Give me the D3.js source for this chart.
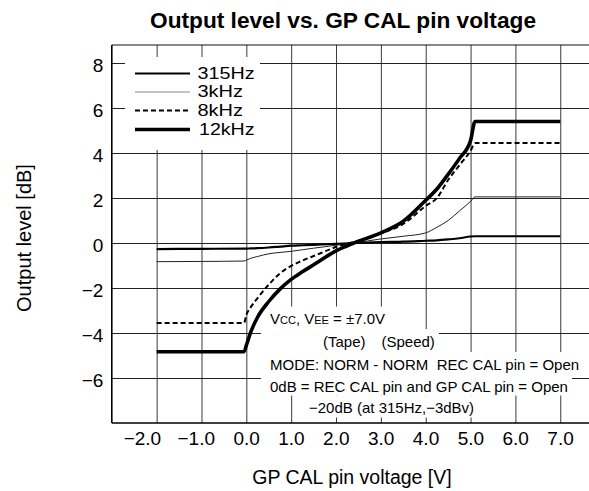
<!DOCTYPE html>
<html>
<head>
<meta charset="utf-8">
<script src="https://cdn.jsdelivr.net/npm/d3@7"></script>
<style>
  html, body { margin: 0; padding: 0; background: #fff; }
  svg { display: block; font-family: "Liberation Sans", Arial, Helvetica, sans-serif; }
  text { white-space: pre; }
</style>
</head>
<body>
<svg id="chart" width="589" height="491"></svg>
<script>
// ---- data ----
const voltage = [-2.0, -1.0, -0.05, 0.0, 0.1, 0.25, 0.5, 0.75, 1.0, 1.25, 1.5, 2.0, 2.4, 3.0, 3.5, 4.0, 4.25, 4.5, 4.75, 5.0, 5.1, 6.0, 7.0];
const out315Hz = [-0.27, -0.26, -0.25, -0.25, -0.24, -0.23, -0.2, -0.16, -0.12, -0.1, -0.08, -0.04, 0.0, 0.04, 0.06, 0.1, 0.12, 0.16, 0.21, 0.29, 0.3, 0.3, 0.3];
const out3kHz  = [-0.83, -0.82, -0.8, -0.76, -0.68, -0.6, -0.48, -0.42, -0.37, -0.3, -0.23, -0.1, 0.0, 0.18, 0.3, 0.45, 0.7, 1.0, 1.42, 1.85, 2.05, 2.05, 2.05];
const out8kHz  = [-3.55, -3.55, -3.55, -3.2, -2.85, -2.45, -1.85, -1.35, -1.02, -0.78, -0.58, -0.18, 0.05, 0.42, 0.85, 1.65, 2.0, 2.8, 3.45, 4.1, 4.44, 4.44, 4.44];
const out12kHz = [-4.83, -4.83, -4.83, -4.55, -3.95, -3.3, -2.6, -2.05, -1.62, -1.28, -0.97, -0.35, 0.0, 0.45, 0.97, 1.9, 2.4, 3.05, 3.75, 4.55, 5.4, 5.4, 5.4];
const seriesNames = ["315Hz", "3kHz", "8kHz", "12kHz"];
const xTicks = [-2, -1, 0, 1, 2, 3, 4, 5, 6, 7];
const xTickLabels = ["\u22122.0", "\u22121.0", "0.0", "1.0", "2.0", "3.0", "4.0", "5.0", "6.0", "7.0"];
const yTicks = [8, 6, 4, 2, 0, -2, -4, -6];
const yTickLabels = ["8", "6", "4", "2", "0", "\u22122", "\u22124", "\u22126"];
const titleText = "Output level vs. GP CAL pin voltage";
const xTitle = "GP CAL pin voltage [V]";
const yTitle = "Output level [dB]";

(function () {
// ---- layout ----
const svg = d3.select("#chart");
const pLeft = 111.8, pRight = 605.1, pTop = 45, pBottom = 423;
const x = d3.scaleLinear().domain([-3, 8]).range([pLeft, pRight]);
const y = d3.scaleLinear().domain([-8, 8.8]).range([pBottom, pTop]);

// title
svg.append("text").attr("x", 343).attr("y", 28).attr("text-anchor", "middle")
  .attr("font-size", 22).attr("font-weight", "bold").attr("fill", "#000")
  .attr("textLength", 386).attr("lengthAdjust", "spacingAndGlyphs").text(titleText);

// grid via axes
const gx = svg.append("g").attr("transform", `translate(0,${pBottom})`)
  .call(d3.axisBottom(x).tickValues(xTicks).tickSize(-(pBottom - pTop)).tickPadding(9)
    .tickFormat((d, i) => xTickLabels[i]));
gx.select(".domain").remove();
gx.selectAll(".tick line").attr("stroke", "#3a3a3a").attr("stroke-width", 1);
gx.selectAll(".tick text").attr("font-size", 19).attr("fill", "#000")
  .attr("font-family", "Liberation Sans, Arial, sans-serif")
  .attr("text-anchor", "end").attr("dx", d => d === -2 ? 4 : 13).attr("dy", "0.71em");

const gy = svg.append("g").attr("transform", `translate(${pLeft},0)`)
  .call(d3.axisLeft(y).tickValues(yTicks).tickSize(-(600 - pLeft)).tickPadding(8.5)
    .tickFormat((d, i) => yTickLabels[i]));
gy.select(".domain").remove();
gy.selectAll(".tick line").attr("stroke", "#222").attr("stroke-width", 1);
gy.selectAll(".tick text").attr("font-size", 19).attr("fill", "#000")
  .attr("font-family", "Liberation Sans, Arial, sans-serif").attr("dy", "0.45em");

// frame: top, left, bottom
svg.append("line").attr("x1", pLeft).attr("x2", 600).attr("y1", pTop).attr("y2", pTop).attr("stroke", "#111").attr("stroke-width", 1.2);
svg.append("line").attr("x1", pLeft).attr("x2", pLeft).attr("y1", pTop).attr("y2", pBottom).attr("stroke", "#000").attr("stroke-width", 1.6);
svg.append("line").attr("x1", pLeft).attr("x2", 600).attr("y1", pBottom).attr("y2", pBottom).attr("stroke", "#000").attr("stroke-width", 1.6);

// axis titles
svg.append("text").attr("x", 352).attr("y", 484).attr("text-anchor", "middle")
  .attr("font-size", 19.5).attr("fill", "#000").text(xTitle);
svg.append("text").attr("transform", "translate(31,238) rotate(-90)").attr("text-anchor", "middle")
  .attr("font-size", 20).attr("fill", "#000").text(yTitle);

// legend background (covers grid)
svg.append("rect").attr("x", 125).attr("y", 57).attr("width", 135).attr("height", 93).attr("fill", "#fff");

// annotation rows with white backgrounds
const annoLayer = svg.append("g");
const rows = [
  { x: 270, y: 324, boxX: 261 },
  { x: 323, y: 346.5, boxX: 261 },
  { x: 270, y: 369.5, boxX: 261 },
  { x: 270, y: 391.5, boxX: 261 },
  { x: 309, y: 413, boxX: 305 }
];
const rowBg = annoLayer.append("g");
const rowText = annoLayer.append("g").attr("font-size", 15).attr("fill", "#000");
const texts = [];
let t = rowText.append("text").attr("x", rows[0].x).attr("y", rows[0].y);
t.append("tspan").text("V");
t.append("tspan").attr("font-size", 11).text("CC");
t.append("tspan").text(", V");
t.append("tspan").attr("font-size", 11).text("EE");
t.append("tspan").text(" = \u00b17.0V");
texts.push(t);
t = rowText.append("text").attr("x", rows[1].x).attr("y", rows[1].y);
t.append("tspan").text("(Tape)");
t.append("tspan").attr("x", 381.5).text("(Speed)");
texts.push(t);
texts.push(rowText.append("text").attr("x", rows[2].x).attr("y", rows[2].y).text("MODE: NORM - NORM  REC CAL pin = Open"));
texts.push(rowText.append("text").attr("x", rows[3].x).attr("y", rows[3].y).text("0dB = REC CAL pin and GP CAL pin = Open"));
texts.push(rowText.append("text").attr("x", rows[4].x).attr("y", rows[4].y).text("\u221220dB (at 315Hz,\u22123dBv)"));
texts.forEach((tx, i) => {
  const bb = tx.node().getBBox();
  const y0 = rows[i].y - 17.5;
  const y1 = i < rows.length - 1 ? rows[i + 1].y - 17.5 : rows[i].y + 4.5;
  rowBg.append("rect").attr("x", rows[i].boxX).attr("y", y0)
    .attr("width", bb.x + bb.width + 4 - rows[i].boxX).attr("height", y1 - y0).attr("fill", "#fff");
});

// curves
const styles = [
  { w: 2.2, dash: null, color: "#000" },
  { w: 1.0, dash: null, color: "#222" },
  { w: 2.0, dash: "5,3", color: "#000" },
  { w: 3.6, dash: null, color: "#000" }
];
const allSeries = [out315Hz, out3kHz, out8kHz, out12kHz];
const line = d3.line().x(d => x(d[0])).y(d => y(d[1])).curve(d3.curveMonotoneX);
allSeries.forEach((vals, i) => {
  const pts = voltage.map((v, j) => [v, vals[j]]);
  svg.append("path").attr("d", line(pts)).attr("fill", "none")
    .attr("stroke", styles[i].color).attr("stroke-width", styles[i].w)
    .attr("stroke-dasharray", styles[i].dash);
});

// legend
const legY = [73.5, 92, 110.5, 129.5];
const legW = [57, 45.5, 45.5, 55.5];
const leg = svg.append("g");
seriesNames.forEach((name, i) => {
  leg.append("line").attr("x1", 135).attr("x2", 190).attr("y1", legY[i]).attr("y2", legY[i])
    .attr("stroke", i === 1 ? "#888" : "#000").attr("stroke-width", styles[i].w)
    .attr("stroke-dasharray", styles[i].dash);
  leg.append("text").attr("x", i === 3 ? 199 : 197.5).attr("y", legY[i] + 5).attr("font-size", 16.5)
    .attr("textLength", legW[i]).attr("lengthAdjust", "spacingAndGlyphs")
    .attr("fill", "#000").text(name);
});
})();
</script>
</body>
</html>
